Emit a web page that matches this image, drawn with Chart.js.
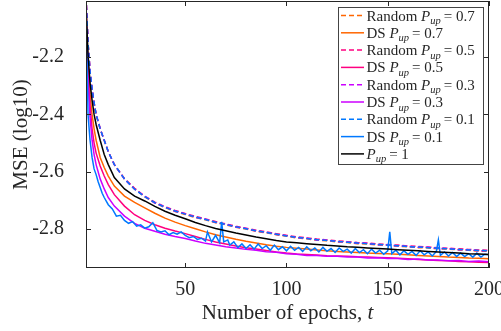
<!DOCTYPE html>
<html lang="en">
<head>
<meta charset="UTF-8">
<title>MSE vs epochs</title>
<script src="https://cdn.jsdelivr.net/npm/chart.js"></script>
<style>
  html, body { margin: 0; padding: 0; background: #fff; }
  #wrap { width: 501px; height: 331px; }
</style>
</head>
<body>
<div id="wrap"><canvas id="mseChart"></canvas></div>
<script>
// epochs sampled for the smooth curves
const epochs = [1, 2, 3, 4, 5, 6, 8, 10, 12, 15,
  20, 25, 30, 35, 40, 45, 50, 55, 60, 65, 70, 75, 80, 85, 90, 95, 100,
  105, 110, 115, 120, 125, 130, 135, 140, 145, 150, 155, 160, 165, 170, 175, 180, 185, 190, 195, 200];

// log10 MSE, random selection
const random07 = [-1.99, -2.15, -2.25, -2.31, -2.36, -2.40, -2.45, -2.49, -2.53, -2.575,
  -2.625, -2.660, -2.688, -2.709, -2.725, -2.739, -2.749, -2.760, -2.768, -2.778, -2.785, -2.794, -2.800, -2.808, -2.813, -2.820, -2.825,
  -2.831, -2.834, -2.839, -2.841, -2.845, -2.847, -2.851, -2.852, -2.856, -2.857, -2.860, -2.862, -2.865, -2.866, -2.869, -2.870, -2.873, -2.874, -2.877, -2.878];
const random05 = [-1.99, -2.15, -2.25, -2.31, -2.36, -2.40, -2.45, -2.49, -2.53, -2.575,
  -2.624, -2.658, -2.685, -2.706, -2.722, -2.735, -2.746, -2.756, -2.765, -2.774, -2.782, -2.790, -2.797, -2.804, -2.810, -2.816, -2.822,
  -2.827, -2.831, -2.835, -2.838, -2.841, -2.844, -2.847, -2.849, -2.852, -2.854, -2.856, -2.859, -2.861, -2.863, -2.865, -2.867, -2.869, -2.871, -2.873, -2.874];
const random03 = [-1.99, -2.15, -2.25, -2.31, -2.36, -2.40, -2.45, -2.49, -2.53, -2.575,
  -2.626, -2.661, -2.686, -2.709, -2.723, -2.738, -2.747, -2.759, -2.766, -2.777, -2.783, -2.793, -2.798, -2.807, -2.811, -2.819, -2.823,
  -2.830, -2.832, -2.838, -2.839, -2.844, -2.845, -2.850, -2.850, -2.855, -2.855, -2.859, -2.860, -2.864, -2.864, -2.868, -2.868, -2.872, -2.872, -2.876, -2.876];
const random01 = [-1.99, -2.15, -2.25, -2.31, -2.36, -2.40, -2.45, -2.49, -2.53, -2.575,
  -2.625, -2.661, -2.687, -2.708, -2.724, -2.737, -2.748, -2.758, -2.767, -2.776, -2.784, -2.792, -2.799, -2.806, -2.812, -2.818, -2.824,
  -2.829, -2.833, -2.837, -2.840, -2.843, -2.846, -2.849, -2.851, -2.854, -2.856, -2.858, -2.861, -2.863, -2.865, -2.867, -2.869, -2.871, -2.873, -2.875, -2.876];

// log10 MSE, DS selection
const ds07 = [-2.02, -2.22, -2.33, -2.40, -2.45, -2.49, -2.55, -2.585, -2.615, -2.65,
  -2.685, -2.707, -2.726, -2.745, -2.762, -2.776, -2.788, -2.799, -2.810, -2.820, -2.828, -2.836, -2.843, -2.849, -2.855, -2.860, -2.864,
  -2.867, -2.870, -2.873, -2.876, -2.878, -2.880, -2.882, -2.884, -2.885, -2.886, -2.888, -2.890, -2.892, -2.894, -2.896, -2.898, -2.899, -2.901, -2.902, -2.904];
const ds05 = [-2.02, -2.26, -2.37, -2.45, -2.50, -2.535, -2.58, -2.615, -2.645, -2.68,
  -2.720, -2.750, -2.770, -2.785, -2.797, -2.807, -2.816, -2.826, -2.836, -2.845, -2.852, -2.859, -2.865, -2.870, -2.875, -2.880, -2.884,
  -2.887, -2.889, -2.891, -2.893, -2.894, -2.895, -2.897, -2.898, -2.899, -2.900, -2.902, -2.904, -2.906, -2.908, -2.910, -2.911, -2.913, -2.914, -2.916, -2.917];
const ds03 = [-2.02, -2.28, -2.41, -2.49, -2.54, -2.575, -2.625, -2.66, -2.69, -2.72,
  -2.755, -2.780, -2.797, -2.808, -2.818, -2.826, -2.833, -2.842, -2.850, -2.856, -2.862, -2.866, -2.871, -2.874, -2.879, -2.881, -2.886,
  -2.888, -2.892, -2.892, -2.895, -2.895, -2.898, -2.898, -2.901, -2.900, -2.903, -2.903, -2.906, -2.905, -2.908, -2.908, -2.911, -2.910, -2.913, -2.912, -2.914];

// full participation baseline
const full = [-2.02, -2.19, -2.29, -2.35, -2.40, -2.435, -2.49, -2.54, -2.575, -2.62,
  -2.660, -2.685, -2.702, -2.721, -2.738, -2.752, -2.764, -2.777, -2.788, -2.798, -2.806, -2.814, -2.821, -2.828, -2.834, -2.840, -2.845,
  -2.848, -2.851, -2.854, -2.857, -2.859, -2.862, -2.864, -2.866, -2.868, -2.870, -2.872, -2.874, -2.876, -2.878, -2.880, -2.882, -2.884, -2.886, -2.887, -2.889];

// DS with P_up = 0.1 is noisy, so it gets its own denser epoch list
const epochsDs01 = [1, 2, 3, 4, 5, 6, 7, 8, 9, 10, 12, 14, 16, 18, 20, 22, 24, 26, 28, 30,
  32, 34, 36, 38, 40, 42, 44, 46, 48, 50, 52, 54, 56, 58, 60, 61, 63, 65, 67, 68,
  69, 71, 72, 74, 76, 78, 80, 82, 84, 86, 88, 90, 92, 94, 96, 98, 100, 102, 104, 106,
  108, 110, 112, 114, 116, 118, 120, 122, 124, 126, 128, 130, 132, 134, 136, 138, 140, 142, 144, 146,
  148, 150, 151, 152, 154, 156, 158, 160, 162, 164, 166, 168, 170, 172, 174, 175, 176, 178, 180, 182,
  184, 186, 188, 190, 192, 194, 196, 198, 200];
const ds01 = [-2.02, -2.40, -2.49, -2.55, -2.59, -2.61, -2.635, -2.655, -2.675, -2.69, -2.715, -2.73, -2.755, -2.752, -2.77, -2.78, -2.774, -2.79, -2.785, -2.797,
  -2.792, -2.778, -2.805, -2.81, -2.806, -2.82, -2.812, -2.818, -2.81, -2.822, -2.83, -2.826, -2.836, -2.832, -2.842, -2.81, -2.845, -2.822, -2.848, -2.775,
  -2.845, -2.838, -2.856, -2.845, -2.865, -2.852, -2.868, -2.855, -2.87, -2.852, -2.868, -2.858, -2.874, -2.856, -2.872, -2.862, -2.876, -2.86, -2.874, -2.864,
  -2.878, -2.862, -2.876, -2.866, -2.88, -2.864, -2.878, -2.868, -2.882, -2.866, -2.878, -2.87, -2.884, -2.868, -2.882, -2.872, -2.886, -2.87, -2.884, -2.874,
  -2.888, -2.876, -2.81, -2.886, -2.874, -2.89, -2.876, -2.888, -2.878, -2.892, -2.876, -2.89, -2.88, -2.894, -2.878, -2.838, -2.892, -2.88, -2.894, -2.882,
  -2.896, -2.884, -2.896, -2.886, -2.898, -2.884, -2.898, -2.888, -2.89];

const xTicks = [50, 100, 150, 200];
const yTicks = [-2.8, -2.6, -2.4, -2.2];

const ORANGE = 'rgb(255,102,0)';
const PINK = 'rgb(255,0,128)';
const PURPLE = 'rgb(204,0,255)';
const BLUE = 'rgb(0,120,255)';
const TXT = '#262626';
const SERIF = '"Liberation Serif", "Times New Roman", serif';

const pts = (xs, ys) => xs.map((x, i) => ({ x: x, y: ys[i] }));

// legend order: [prefix, P_up value, colour, dashed, xs, ys]
const series = [
  ['Random', '0.7', ORANGE, true, epochs, random07],
  ['DS', '0.7', ORANGE, false, epochs, ds07],
  ['Random', '0.5', PINK, true, epochs, random05],
  ['DS', '0.5', PINK, false, epochs, ds05],
  ['Random', '0.3', PURPLE, true, epochs, random03],
  ['DS', '0.3', PURPLE, false, epochs, ds03],
  ['Random', '0.1', BLUE, true, epochs, random01],
  ['DS', '0.1', BLUE, false, epochsDs01, ds01],
  ['', '1', '#000', false, epochs, full]
];

const datasets = series.map((s, i) => ({
  label: (s[0] ? s[0] + ' ' : '') + 'P_up = ' + s[1],
  data: pts(s[4], s[5]),
  borderColor: s[2],
  borderWidth: 1.5,
  borderDash: s[3] ? [5, 3] : [],
  pointRadius: 0,
  tension: 0,
  order: series.length - i   // later entries drawn on top
}));

// axes box with inward ticks on all four sides
const axisBox = {
  id: 'axisBox',
  afterDatasetsDraw(chart) {
    const { ctx, chartArea: a, scales: { x, y } } = chart;
    ctx.save();
    ctx.strokeStyle = TXT;
    ctx.lineWidth = 1;
    ctx.setLineDash([]);
    ctx.strokeRect(a.left + 0.5, a.top + 0.5, a.right - a.left - 1, a.bottom - a.top - 1);
    ctx.beginPath();
    xTicks.forEach(v => {
      const px = Math.round(x.getPixelForValue(v)) + 0.5;
      ctx.moveTo(px, a.bottom); ctx.lineTo(px, a.bottom - 5);
      ctx.moveTo(px, a.top); ctx.lineTo(px, a.top + 5);
    });
    yTicks.forEach(v => {
      const py = Math.round(y.getPixelForValue(v)) + 0.5;
      ctx.moveTo(a.left, py); ctx.lineTo(a.left + 5, py);
      ctx.moveTo(a.right, py); ctx.lineTo(a.right - 5, py);
    });
    ctx.stroke();

    // x label with italic t
    const cx = (a.left + a.right) / 2;
    const ty = 313;
    const part1 = 'Number of epochs, ';
    ctx.font = '21px ' + SERIF;
    const w1 = ctx.measureText(part1).width;
    ctx.font = 'italic 21px ' + SERIF;
    const w2 = ctx.measureText('t').width;
    const tx = cx - (w1 + w2) / 2;
    ctx.fillStyle = TXT;
    ctx.textBaseline = 'middle';
    ctx.textAlign = 'left';
    ctx.font = '21px ' + SERIF;
    ctx.fillText(part1, tx, ty);
    ctx.font = 'italic 21px ' + SERIF;
    ctx.fillText('t', tx + w1, ty);
    ctx.restore();
  }
};

// legend with P_up subscripts
const legendBox = {
  id: 'legendBox',
  afterDraw(chart) {
    const { ctx, chartArea: a } = chart;
    const bx = a.right - 151, by = 7, bw = 145, bh = 157;
    const rowH = 17.3;
    ctx.save();
    ctx.fillStyle = '#fff';
    ctx.fillRect(bx, by, bw, bh);
    ctx.strokeStyle = '#444';
    ctx.lineWidth = 1;
    ctx.strokeRect(bx + 0.5, by + 0.5, bw, bh);
    ctx.textBaseline = 'alphabetic';
    ctx.textAlign = 'left';
    series.forEach((s, i) => {
      const cy = by + 8.5 + i * rowH;
      ctx.strokeStyle = s[2];
      ctx.lineWidth = 1.5;
      ctx.setLineDash(s[3] ? [5, 3] : []);
      ctx.beginPath();
      ctx.moveTo(bx + 3, cy); ctx.lineTo(bx + 26, cy);
      ctx.stroke();
      ctx.setLineDash([]);
      ctx.fillStyle = TXT;
      let tx = bx + 28.5;
      const base = cy + 5;
      ctx.font = '15px ' + SERIF;
      if (s[0]) {
        ctx.fillText(s[0] + ' ', tx, base);
        tx += ctx.measureText(s[0] + ' ').width;
      }
      ctx.font = 'italic 15px ' + SERIF;
      ctx.fillText('P', tx, base);
      tx += ctx.measureText('P').width;
      ctx.font = 'italic 10.5px ' + SERIF;
      ctx.fillText('up', tx, base + 3.5);
      tx += ctx.measureText('up').width + 3;
      ctx.font = '15px ' + SERIF;
      ctx.fillText('= ' + s[1], tx, base);
    });
    ctx.restore();
  }
};

new Chart(document.getElementById('mseChart'), {
  type: 'line',
  data: { datasets: datasets },
  options: {
    responsive: true,
    maintainAspectRatio: false,
    animation: false,
    devicePixelRatio: 1,
    layout: { padding: { top: 1, right: 12, left: 0, bottom: 0 } },
    plugins: { legend: { display: false }, tooltip: { enabled: false } },
    scales: {
      x: {
        type: 'linear',
        min: 1,
        max: 200,
        afterBuildTicks: s => { s.ticks = xTicks.map(v => ({ value: v })); },
        afterFit: s => { s.height = 63; s.paddingLeft = 0; s.paddingRight = 0; },
        grid: { display: false },
        border: { display: false },
        ticks: { color: TXT, font: { family: SERIF, size: 20 }, padding: 2, maxRotation: 0, autoSkip: false }
      },
      y: {
        type: 'linear',
        min: -2.936,
        max: -2.004,
        afterBuildTicks: s => { s.ticks = yTicks.map(v => ({ value: v })); },
        afterFit: s => { s.width = 86; s.paddingTop = 0; s.paddingBottom = 0; },
        grid: { display: false },
        border: { display: false },
        ticks: { color: TXT, font: { family: SERIF, size: 20 }, padding: 14, callback: v => v.toFixed(1) },
        title: { display: true, text: 'MSE (log10)', color: TXT, font: { family: SERIF, size: 21 }, padding: { top: 9, bottom: 0 } }
      }
    }
  },
  plugins: [axisBox, legendBox]
});
</script>
</body>
</html>
